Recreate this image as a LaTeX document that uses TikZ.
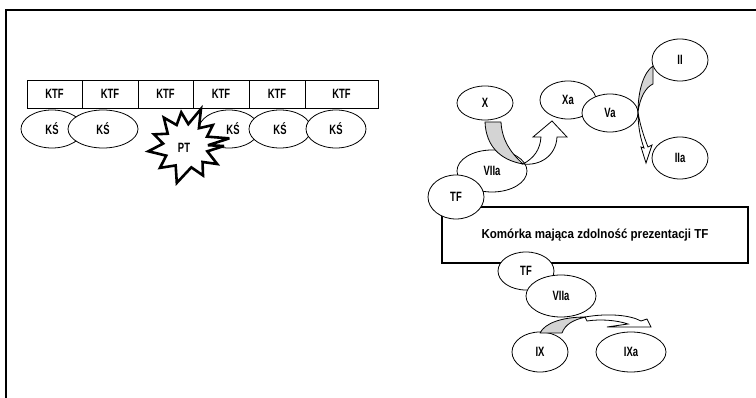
\documentclass[tikz,border=0pt]{standalone}
\usepackage{fontspec}
\usepackage{graphicx}
\setmainfont{Liberation Sans}
\newcommand\mylbl[1]{\scalebox{0.70}[1]{\fontsize{13.5}{15}\selectfont\bfseries #1}}
\newcommand\myboxtxt[1]{\scalebox{0.89}[1]{\fontsize{13}{15}\selectfont\bfseries #1}}
\usetikzlibrary{shapes.geometric}
\begin{document}
\begin{tikzpicture}[x=1pt,y=-1pt,
  elp/.style={draw, fill=white, ellipse, inner sep=0pt, line width=0.8pt},
  ktfbox/.style={draw, fill=white, rectangle, inner sep=0pt, minimum height=28pt, line width=0.8pt},
  graypart/.style={draw, fill=black!17, line width=0.8pt, line join=round},
  whitepart/.style={draw, fill=white, line width=0.8pt, line join=miter}]
\useasboundingbox (0,0) rectangle (756,398);
% frame
\draw[line width=1.5pt] (6,398) -- (6,10) -- (756,10);
% KTF row
\node[ktfbox, minimum width=55pt] (ktf1) at (54.5,94) {\mylbl{KTF}};
\node[ktfbox, minimum width=56pt] (ktf2) at (110,94) {\mylbl{KTF}};
\node[ktfbox, minimum width=55pt] (ktf3) at (165.5,94) {\mylbl{KTF}};
\node[ktfbox, minimum width=56pt] (ktf4) at (221,94) {\mylbl{KTF}};
\node[ktfbox, minimum width=56pt] (ktf5) at (277,94) {\mylbl{KTF}};
\node[ktfbox, minimum width=73pt] (ktf6) at (341.5,94) {\mylbl{KTF}};
% KS row
\node[elp, minimum width=62pt, minimum height=38pt] (ks1) at (52,129) {\mylbl{KŚ}};
\node[elp, minimum width=70pt, minimum height=38pt] (ks2) at (103,129) {\mylbl{KŚ}};
\node[elp, minimum width=60pt, minimum height=38pt] (ks3) at (229,129) {\hspace*{8pt}\mylbl{KŚ}};
\node[elp, minimum width=62pt, minimum height=38pt] (ks4) at (280,129) {\mylbl{KŚ}};
\node[elp, minimum width=60pt, minimum height=38pt] (ks5) at (336,129) {\mylbl{KŚ}};
% PT starburst
\draw[line width=2.6pt, fill=white, line join=miter, miter limit=4, shift={(186,146)}]
  (0:38) -- (14:22) -- (30:36) -- (44:23) -- (60:34) -- (76:22) -- (104:38)
  -- (118:22) -- (140:34) -- (154:22) -- (172:38) -- (186:23) -- (200:34)
  -- (214:22) -- (232:36) -- (246:23) -- (262:34) -- (276:22) -- (292:40)
  -- (306:22) -- (322:34) -- (336:23) -- (350:44)-- (358:22) -- cycle;
\node (pt) at (184,148) {\mylbl{PT}};
% right side
\node[draw, fill=white, rectangle, line width=1.6pt, minimum width=306pt, minimum height=56pt, inner sep=0pt] (cell) at (595,235) {\myboxtxt{Komórka mająca zdolność prezentacji TF}};
\node[elp, minimum width=70pt, minimum height=42pt] (viia1) at (492,171) {\mylbl{VIIa}};
\node[elp, minimum width=56pt, minimum height=44pt] (tf1) at (456,197) {\mylbl{TF}};
\node[elp, minimum width=56pt, minimum height=38pt] (tf2) at (526,271) {\mylbl{TF}};
\node[elp, minimum width=70pt, minimum height=42pt] (viia2) at (561,296) {\mylbl{VIIa}};
\node[elp, minimum width=56pt, minimum height=40pt] (ix) at (540,352) {\mylbl{IX}};
\node[elp, minimum width=70pt, minimum height=40pt] (ixa) at (631,352) {\mylbl{IXa}};
\node[elp, minimum width=56pt, minimum height=34pt] (x) at (485,103) {\mylbl{X}};
\node[elp, minimum width=56pt, minimum height=38pt] (xa) at (568,100) {\mylbl{Xa}};
\node[elp, minimum width=56pt, minimum height=38pt] (va) at (610,113) {\mylbl{Va}};
\node[elp, minimum width=56pt, minimum height=42pt] (ii) at (680,60) {\mylbl{II}};
\node[elp, minimum width=56pt, minimum height=42pt] (iia) at (680,158) {\mylbl{IIa}};
% arrow X -> Xa
\draw[whitepart] (523,164) .. controls (534,158) and (540,150) .. (541,137) -- (533,137)
  -- (552,121) -- (567,137) -- (557,137) .. controls (556,156) and (540,166) .. (523,164) -- cycle;
\draw[graypart] (485,122) .. controls (486,146) and (500,160) .. (523,164)
  .. controls (510,152) and (502,140) .. (501,122) -- cycle;
% arrow II -> IIa
\draw[whitepart] (638,112) .. controls (638,128) and (641,140) .. (644,148) -- (641,147)
  -- (646,163) -- (652,145) -- (648,147) .. controls (644,137) and (640,125) .. (638,112) -- cycle;
\draw[graypart] (653,66) .. controls (644,72) and (638,90) .. (638,112)
  .. controls (640,97) and (646,87) .. (653,84) -- cycle;
% arrow IX -> IXa
\draw[whitepart] (585,317) .. controls (608,313) and (630,315) .. (641,321) -- (647,319)
  -- (651,327) -- (607,327) -- (628,324) .. controls (616,320) and (600,319) .. (587,321) -- cycle;
\draw[graypart] (540,333) .. controls (545,323) and (562,317) .. (586,317)
  .. controls (572,320) and (565,325) .. (562,333) -- cycle;
\end{tikzpicture}
\end{document}
